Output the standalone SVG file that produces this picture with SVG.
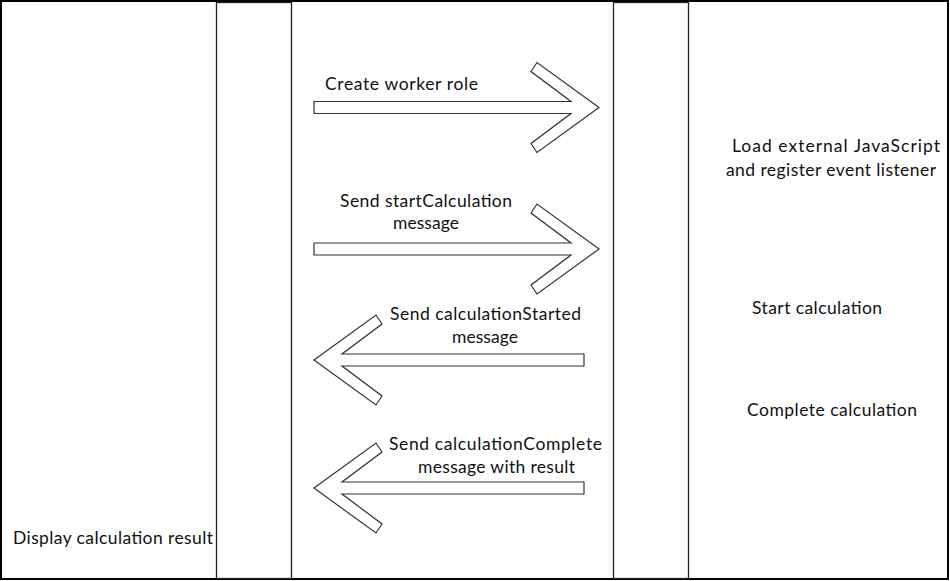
<svg xmlns="http://www.w3.org/2000/svg" width="950" height="581" viewBox="0 0 950 581">
<style>
.frame{fill:#fff;stroke:#000;stroke-width:2}
.life{fill:#fff;stroke:#222;stroke-width:1.3}
.arrow{fill:#fff;stroke:#333;stroke-width:1.2;stroke-linejoin:miter}
.t{font-family:Lato,"Liberation Sans",Arial,sans-serif;font-size:17.5px;fill:#111}
</style>
<rect class="frame" x="1" y="1" width="947" height="578"/>
<g id="main-lifeline">
<rect class="life" x="216.5" y="2.5" width="75" height="576"/>
<text class="t" x="13" y="543.5" textLength="200">Display calculation result</text>
</g>
<g id="worker-lifeline">
<rect class="life" x="613.5" y="2.5" width="75" height="576"/>
<text class="t" x="732" y="151.5" textLength="208">Load external JavaScript</text>
<text class="t" x="726" y="176" textLength="210">and register event listener</text>
<text class="t" x="752" y="313.5" textLength="130">Start calculation</text>
<text class="t" x="747" y="416" textLength="170">Complete calculation</text>
</g>
<g id="connectors">
<g id="create-worker">
<polygon class="arrow" points="314,101.5 571,101.5 531,71.5 537,62.5 599,107.5 537,152.5 531,143.5 571,113.5 314,113.5"/>
<text class="t" x="325" y="90" textLength="153">Create worker role</text>
</g>
<g id="send-start">
<polygon class="arrow" points="314,243 571,243 531,213 537,204 599,249 537,294 531,285 571,255 314,255"/>
<text class="t" x="340" y="206.5" textLength="172">Send startCalculation</text>
<text class="t" x="393" y="228.5" textLength="66">message</text>
</g>
<g id="send-started">
<polygon class="arrow" points="584,354 342,354 382,324 376,315 314,360 376,405 382,396 342,366 584,366"/>
<text class="t" x="390" y="320" textLength="191">Send calculationStarted</text>
<text class="t" x="452" y="343" textLength="66">message</text>
</g>
<g id="send-complete">
<polygon class="arrow" points="584,482 342,482 382,452 376,443 314,488 376,533 382,524 342,494 584,494"/>
<text class="t" x="389" y="450" textLength="213">Send calculationComplete</text>
<text class="t" x="418" y="472.5" textLength="157">message with result</text>
</g>
</g>
</svg>
